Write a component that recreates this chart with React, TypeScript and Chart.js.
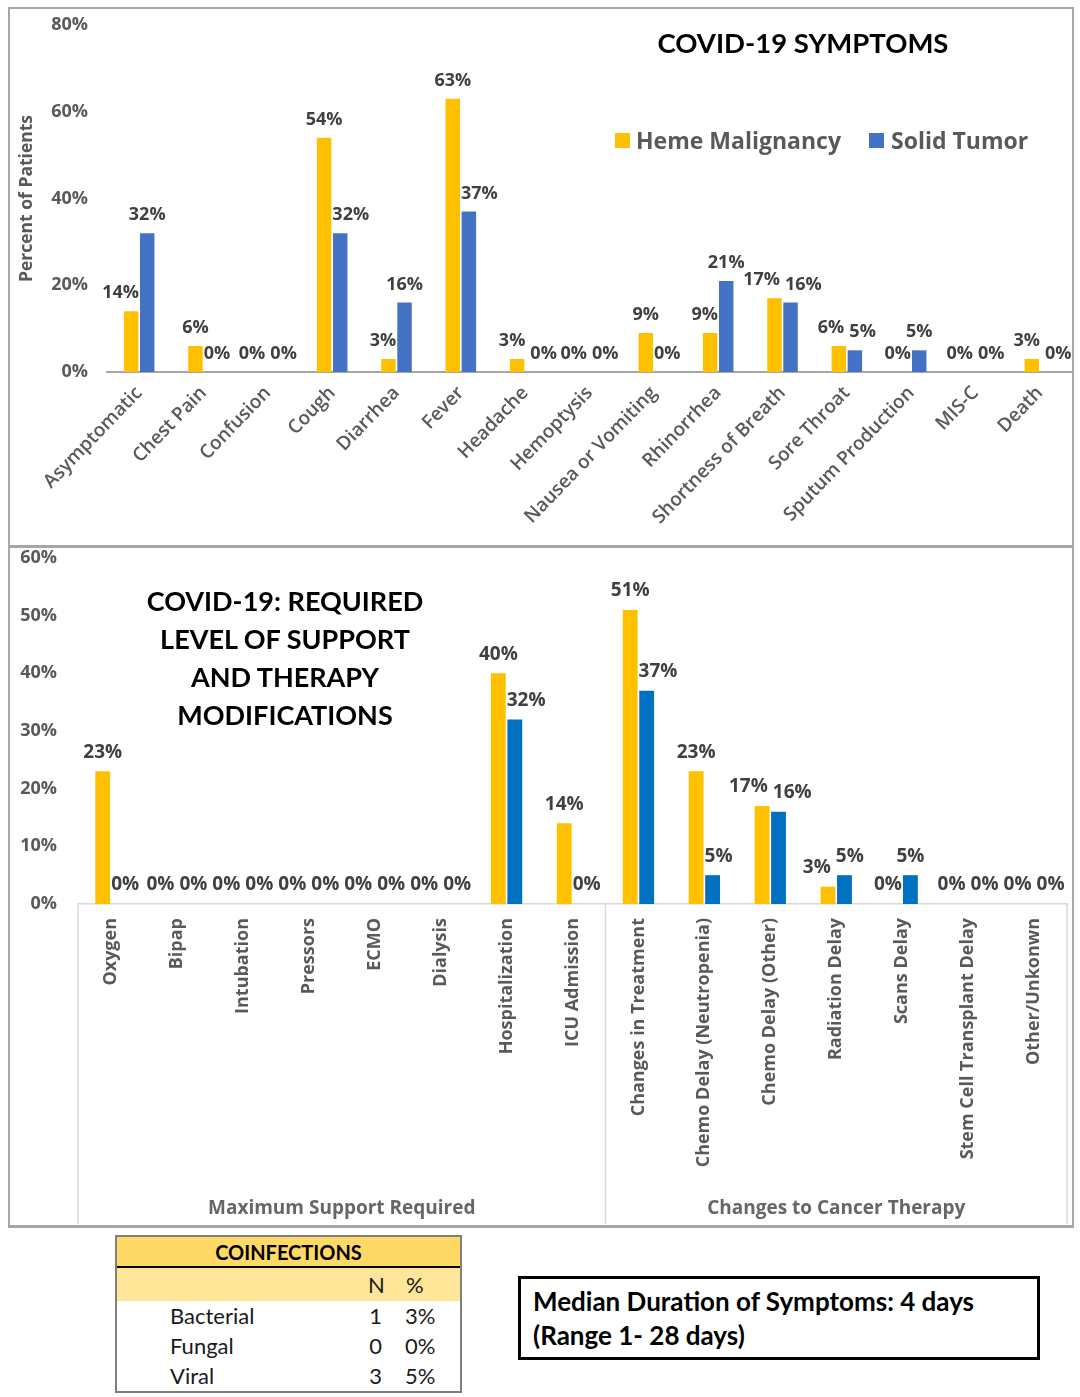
import React, { useEffect, useRef } from "react";
import { Chart, registerables } from "chart.js";
Chart.register(...registerables);

// ---------- DATA ----------
const symptomCategories = [
  "Asymptomatic", "Chest Pain", "Confusion", "Cough", "Diarrhea", "Fever", "Headache",
  "Hemoptysis", "Nausea or Vomiting", "Rhinorrhea", "Shortness of Breath", "Sore Throat",
  "Sputum Production", "MIS-C", "Death",
];
const hemeSymptoms = [14, 6, 0, 54, 3, 63, 3, 0, 9, 9, 17, 6, 0, 0, 3];
const solidSymptoms = [32, 0, 0, 32, 16, 37, 0, 0, 0, 21, 16, 5, 5, 0, 0];
const symptomTicks = [0, 20, 40, 60, 80];

const supportCategories = [
  "Oxygen", "Bipap", "Intubation", "Pressors", "ECMO", "Dialysis", "Hospitalization",
  "ICU Admission", "Changes in Treatment", "Chemo Delay (Neutropenia)", "Chemo Delay (Other)",
  "Radiation Delay", "Scans Delay", "Stem Cell Transplant Delay", "Other/Unkonwn",
];
const hemeSupport = [23, 0, 0, 0, 0, 0, 40, 14, 51, 23, 17, 3, 0, 0, 0];
const solidSupport = [0, 0, 0, 0, 0, 0, 32, 0, 37, 5, 16, 5, 5, 0, 0];
const supportTicks = [0, 10, 20, 30, 40, 50, 60];
const supportGroups = ["Maximum Support Required", "Changes to Cancer Therapy"];
const supportGroupSizes = [8, 7];

const seriesNames = ["Heme Malignancy", "Solid Tumor"];

const coinfectionRows = ["Bacterial", "Fungal", "Viral"];
const coinfectionN = [1, 0, 3];
const coinfectionPct = ["3%", "0%", "5%"];

// ---------- STYLE ----------
const YELLOW = "#FFC000";
const BLUE_TOP = "#4472C4";
const BLUE_BOTTOM = "#0070C0";
const GRAY = "#595959";
const LABEL = "#404040";
const SANS = '"Open Sans", "DejaVu Sans", sans-serif';
const CAL = 'Lato, "Open Sans", sans-serif';

function makeLabelPlugin(fontSize: number, lift: number) {
  const cap = 12;
  const gap = 5;
  return {
    id: "valueLabels",
    afterDatasetsDraw(chart: any) {
      const ctx = chart.ctx;
      ctx.save();
      ctx.font = `700 ${fontSize}px ${SANS}`;
      ctx.fillStyle = LABEL;
      ctx.textAlign = "center";
      ctx.textBaseline = "middle";
      const metas = chart.data.datasets.map((_: any, d: number) => chart.getDatasetMeta(d));
      const n = chart.data.labels.length;
      const h = fontSize;
      for (let i = 0; i < n; i++) {
        const items = metas.map((m: any, d: number) => {
          const bar = m.data[i];
          const v = chart.data.datasets[d].data[i];
          const text = v + "%";
          const w = ctx.measureText(text).width;
          return { bar, text, w, cx: bar.x, cy: bar.y - lift };
        });
        items.forEach((it: any, k: number) => {
          const other = items[1 - k];
          const ob = other.bar;
          if (ob.base - ob.y < 0.5) return;
          const oL = ob.x - ob.width / 2;
          const oR = ob.x + ob.width / 2;
          if (ob.y < it.cy + h / 2) {
            const l = it.cx - it.w / 2;
            const r = it.cx + it.w / 2;
            if (k === 0 && r > oL) it.cx -= Math.min(r - oL + 1, cap);
            if (k === 1 && l < oR) it.cx += Math.min(oR - l + 1, cap);
          }
        });
        const a = items[0];
        const b = items[1];
        if (Math.abs(a.cy - b.cy) < h) {
          const need = a.w / 2 + b.w / 2 + gap - (b.cx - a.cx);
          if (need > 0) {
            a.cx -= need / 2;
            b.cx += need / 2;
          }
        }
        items.forEach((it: any) => ctx.fillText(it.text, it.cx, it.cy));
      }
      ctx.restore();
    },
  };
}

const groupPlugin = {
  id: "groups",
  afterDraw(chart: any) {
    const { ctx, chartArea } = chart;
    const x = chart.scales.x;
    const n = chart.data.labels.length;
    const bounds = [chartArea.left];
    let idx = 0;
    supportGroupSizes.forEach((s) => {
      idx += s;
      bounds.push(idx < n ? (x.getPixelForValue(idx - 1) + x.getPixelForValue(idx)) / 2 : chartArea.right);
    });
    ctx.save();
    ctx.strokeStyle = "#d9d9d9";
    ctx.lineWidth = 1.5;
    bounds.forEach((bx) => {
      ctx.beginPath();
      ctx.moveTo(bx, chartArea.bottom);
      ctx.lineTo(bx, chart.height - 2);
      ctx.stroke();
    });
    ctx.font = `700 19px ${SANS}`;
    ctx.fillStyle = "#666666";
    ctx.textAlign = "center";
    ctx.textBaseline = "middle";
    supportGroups.forEach((g, k) => {
      ctx.fillText(g, (bounds[k] + bounds[k + 1]) / 2, chart.height - 17);
    });
    ctx.restore();
  },
};

const zeroPadY = (w: number) => (s: any) => {
  s.width = w;
  s.paddingTop = 0;
  s.paddingBottom = 0;
};
const zeroPadX = (h: number) => (s: any) => {
  s.height = h;
  s.paddingLeft = 0;
  s.paddingRight = 0;
};

function TopChart() {
  const ref = useRef<HTMLCanvasElement>(null);
  useEffect(() => {
    if (!ref.current) return;
    const chart = new Chart(ref.current, {
      type: "bar",
      data: {
        labels: symptomCategories,
        datasets: [
          { label: seriesNames[0], data: hemeSymptoms, backgroundColor: YELLOW, categoryPercentage: 0.5, barPercentage: 0.9 },
          { label: seriesNames[1], data: solidSymptoms, backgroundColor: BLUE_TOP, categoryPercentage: 0.5, barPercentage: 0.9 },
        ],
      },
      options: {
        responsive: false,
        animation: false,
        layout: { padding: { top: 17, right: 1, left: 0, bottom: 0 } },
        plugins: { legend: { display: false }, tooltip: { enabled: false }, title: { display: false } },
        scales: {
          x: {
            grid: { display: false, drawTicks: false },
            border: { display: true, color: "#a6a6a6", width: 2 },
            ticks: {
              autoSkip: false,
              minRotation: 46,
              maxRotation: 46,
              padding: 10,
              color: GRAY,
              font: { family: SANS, size: 19, weight: 600 },
            },
            afterFit: zeroPadX(174),
          },
          y: {
            min: 0,
            max: 80,
            afterBuildTicks: (s: any) => {
              s.ticks = symptomTicks.map((v) => ({ value: v }));
            },
            ticks: {
              callback: (v: any) => v + "%",
              padding: 19,
              color: GRAY,
              font: { family: SANS, size: 18, weight: "bold" },
            },
            grid: { display: false, drawTicks: false },
            border: { display: false },
            title: {
              display: true,
              text: "Percent of Patients",
              color: GRAY,
              font: { family: SANS, size: 17.5, weight: "bold" },
              padding: { top: 8, bottom: 0 },
            },
            afterFit: zeroPadY(98),
          },
        },
      } as any,
      plugins: [makeLabelPlugin(18, 18)],
    });
    return () => chart.destroy();
  }, []);
  return <canvas ref={ref} width={1064} height={538} style={{ position: "absolute", left: 9, top: 8 }} />;
}

function BottomChart() {
  const ref = useRef<HTMLCanvasElement>(null);
  useEffect(() => {
    if (!ref.current) return;
    const chart = new Chart(ref.current, {
      type: "bar",
      data: {
        labels: supportCategories,
        datasets: [
          { label: seriesNames[0], data: hemeSupport, backgroundColor: YELLOW, categoryPercentage: 0.5, barPercentage: 0.9 },
          { label: seriesNames[1], data: solidSupport, backgroundColor: BLUE_BOTTOM, categoryPercentage: 0.5, barPercentage: 0.9 },
        ],
      },
      options: {
        responsive: false,
        animation: false,
        layout: { padding: { top: 12, right: 6, left: 0, bottom: 0 } },
        plugins: { legend: { display: false }, tooltip: { enabled: false }, title: { display: false } },
        scales: {
          x: {
            grid: { display: false, drawTicks: false },
            border: { display: true, color: "#d9d9d9", width: 1.5 },
            ticks: {
              autoSkip: false,
              minRotation: 90,
              maxRotation: 90,
              padding: 14,
              color: GRAY,
              font: { family: SANS, size: 18, weight: "bold" },
            },
            afterFit: zeroPadX(322),
          },
          y: {
            min: 0,
            max: 60,
            afterBuildTicks: (s: any) => {
              s.ticks = supportTicks.map((v) => ({ value: v }));
            },
            ticks: {
              callback: (v: any) => v + "%",
              padding: 21,
              color: GRAY,
              font: { family: SANS, size: 18, weight: "bold" },
            },
            grid: { display: false, drawTicks: false },
            border: { display: false },
            afterFit: zeroPadY(69),
          },
        },
      } as any,
      plugins: [makeLabelPlugin(19, 19), groupPlugin],
    });
    return () => chart.destroy();
  }, []);
  return <canvas ref={ref} width={1064} height={680} style={{ position: "absolute", left: 9, top: 546 }} />;
}

export default function App() {
  const abs = (o: any): React.CSSProperties => ({ position: "absolute", ...o });
  return (
    <div style={{ position: "absolute", left: 0, top: 0, width: 1080, height: 1397, background: "#fff", overflow: "hidden" }}>
      <TopChart />
      <BottomChart />
      {/* chart frames */}
      <div style={abs({ left: 8, top: 7, width: 1066, height: 541, border: "2px solid #a6a6a6", boxSizing: "border-box", pointerEvents: "none" })} />
      <div style={abs({ left: 8, top: 545, width: 1066, height: 683, border: "2px solid #a6a6a6", borderBottomWidth: 3, boxSizing: "border-box", pointerEvents: "none" })} />

      {/* top title */}
      <div style={abs({ left: 603, top: 26, width: 400, textAlign: "center", font: `700 27.5px ${CAL}`, lineHeight: "34px", color: "#000" })}>
        COVID-19 SYMPTOMS
      </div>
      {/* legend */}
      <div style={abs({ left: 615, top: 133, width: 15, height: 15, background: YELLOW })} />
      <div style={abs({ left: 636, top: 125, font: `700 23px ${SANS}`, lineHeight: "30px", color: GRAY, whiteSpace: "nowrap" })}>{seriesNames[0]}</div>
      <div style={abs({ left: 869, top: 133, width: 15, height: 15, background: BLUE_TOP })} />
      <div style={abs({ left: 891, top: 125, font: `700 23px ${SANS}`, lineHeight: "30px", color: GRAY, whiteSpace: "nowrap" })}>{seriesNames[1]}</div>

      {/* bottom title */}
      <div style={abs({ left: 85, top: 582, width: 400, textAlign: "center", font: `700 27px ${CAL}`, lineHeight: "38px", color: "#000" })}>
        COVID-19: REQUIRED
        <br />
        LEVEL OF SUPPORT
        <br />
        AND THERAPY
        <br />
        MODIFICATIONS
      </div>

      {/* coinfections table */}
      <div style={abs({ left: 115, top: 1235, width: 347, height: 158, border: "2px solid #7f7f7f", boxSizing: "border-box", fontFamily: CAL, color: "#1a1a1a" })}>
        <div style={{ height: 29, background: "#FFD966", borderBottom: "2px solid #000", textAlign: "center", font: `700 20px ${CAL}`, lineHeight: "30px", color: "#000" }}>
          COINFECTIONS
        </div>
        <div style={{ height: 33, background: "#FFE699", position: "relative", fontSize: 22, lineHeight: "33px" }}>
          <span style={{ position: "absolute", left: 251 }}>N</span>
          <span style={{ position: "absolute", left: 289 }}>%</span>
        </div>
        {coinfectionRows.map((r, i) => (
          <div key={r} style={{ height: 30, position: "relative", fontSize: 22, lineHeight: "30px" }}>
            <span style={{ position: "absolute", left: 53 }}>{r}</span>
            <span style={{ position: "absolute", right: 78 }}>{coinfectionN[i]}</span>
            <span style={{ position: "absolute", left: 288 }}>{coinfectionPct[i]}</span>
          </div>
        ))}
      </div>

      {/* median duration box */}
      <div style={abs({ left: 518, top: 1276, width: 522, height: 84, border: "3px solid #000", boxSizing: "border-box", padding: "5px 0 0 12px", font: `700 26px ${CAL}`, lineHeight: "34px", color: "#000", whiteSpace: "nowrap" })}>
        Median Duration of Symptoms: 4 days
        <br />
        (Range 1- 28 days)
      </div>
    </div>
  );
}
